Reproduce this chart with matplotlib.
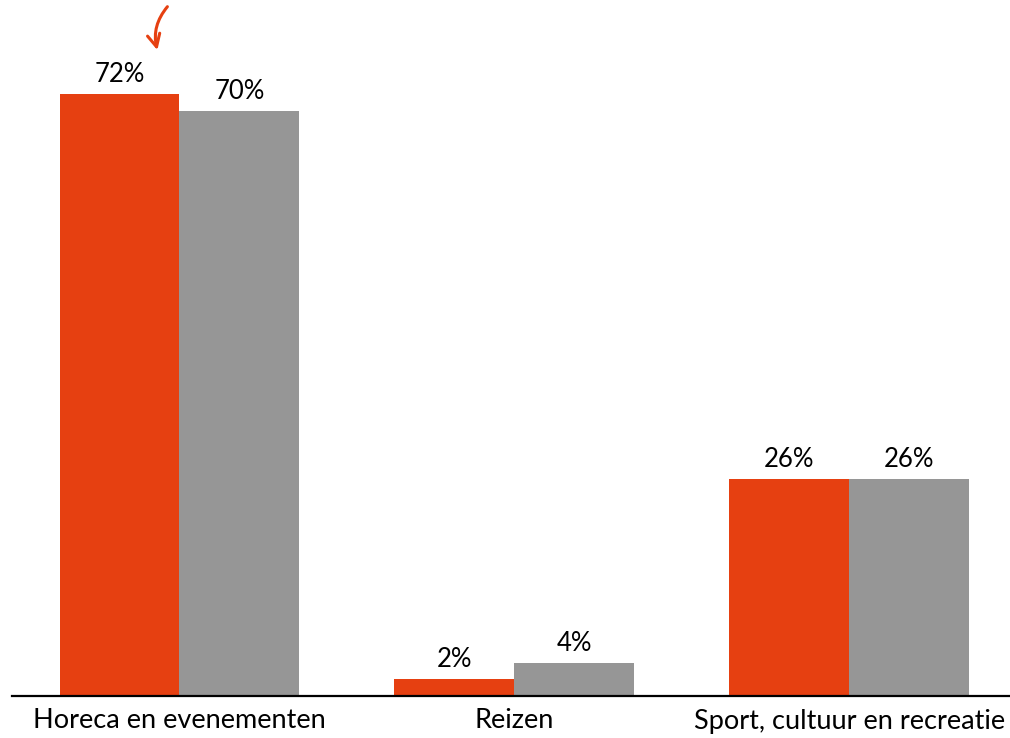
import numpy as np
from matplotlib import pyplot as plt

categories = ["Horeca en evenementen", "Reizen", "Sport, cultuur en recreatie"]
serie_oranje = [72, 2, 26]
serie_grijs = [70, 4, 26]
labels_oranje = ["72%", "2%", "26%"]
labels_grijs = ["70%", "4%", "26%"]

oranje = "#E64011"
grijs = "#969696"

plt.rcParams['font.family'] = ['Lato', 'DejaVu Sans']

fig = plt.figure(figsize=(10.1, 7.38), dpi=100)
ax = fig.add_axes([12 / 1010, 1 - 696 / 738, 1 - 12 / 1010, 696 / 738])

x = np.arange(len(categories))
w = 0.358
b1 = ax.bar(x - w / 2, serie_oranje, w, color=oranje)
b2 = ax.bar(x + w / 2, serie_grijs, w, color=grijs)

ax.bar_label(b1, labels=labels_oranje, padding=5, fontsize=18.5)
ax.bar_label(b2, labels=labels_grijs, padding=5, fontsize=18.5)

ax.set_xlim(-0.5, 2.48)
ax.set_ylim(0, 83.3)
ax.set_xticks(x)
ax.set_xticklabels(categories, fontsize=19.5)
ax.tick_params(axis="x", length=0, pad=9)
ax.set_yticks([])
for s in ["top", "left", "right"]:
    ax.spines[s].set_visible(False)
ax.spines["bottom"].set_linewidth(1.6)

# pijltje boven de hoogste balk
ax.annotate("", xy=(-0.066, 77.3), xytext=(-0.036, 82.5),
            arrowprops=dict(arrowstyle="->,head_length=0.9,head_width=0.45",
                            color=oranje, lw=2.2, shrinkA=0, shrinkB=0,
                            connectionstyle="arc3,rad=0.25"),
            annotation_clip=False)

fig.savefig("out.png", dpi=100)
